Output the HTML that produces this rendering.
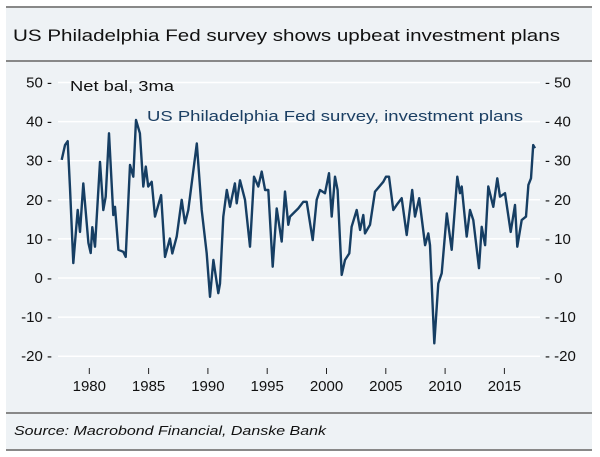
<!DOCTYPE html>
<html><head><meta charset="utf-8"><style>
html,body{margin:0;padding:0;background:#fff;}
svg{display:block;font-family:"Liberation Sans",sans-serif;}
</style></head><body>
<svg id="chart" width="600" height="457" viewBox="0 0 600 457">
  <rect x="6" y="7" width="586" height="444" fill="#eef2f5"/>
  <rect x="6" y="6" width="586" height="2" fill="#888"/>
  <text x="13" y="41" font-size="17" fill="#111" textLength="547" lengthAdjust="spacingAndGlyphs">US Philadelphia Fed survey shows upbeat investment plans</text>
  <rect x="6" y="60" width="586" height="2" fill="#888"/>
  <g id="grid"></g>
  <g id="ylabels"></g>
  <g id="xaxis"></g>
  <text x="70" y="91" font-size="15" fill="#111" textLength="104" lengthAdjust="spacingAndGlyphs">Net bal, 3ma</text>
  <text x="147" y="121" font-size="15" fill="#1b3f63" textLength="376" lengthAdjust="spacingAndGlyphs">US Philadelphia Fed survey, investment plans</text>
  <path id="line" fill="none" stroke="#163e63" stroke-width="2.4" stroke-linejoin="round"/>
  <rect x="6" y="412" width="586" height="2" fill="#888"/>
  <text x="14" y="435" font-size="13" font-style="italic" fill="#111" textLength="312" lengthAdjust="spacingAndGlyphs">Source: Macrobond Financial, Danske Bank</text>
  <rect x="6" y="449" width="586" height="2" fill="#888"/>
</svg>
<script>
const years=[1977.67,1977.95,1978.18,1978.37,1978.65,1979.02,1979.22,1979.49,1979.92,1980.12,1980.25,1980.48,1980.90,1981.18,1981.38,1981.66,1982.02,1982.17,1982.45,1982.87,1983.07,1983.43,1983.71,1983.94,1984.27,1984.55,1984.76,1984.97,1985.26,1985.54,1986.05,1986.38,1986.80,1987.00,1987.37,1987.79,1988.07,1988.35,1988.63,1989.06,1989.48,1989.90,1990.18,1990.46,1990.88,1991.02,1991.30,1991.59,1991.86,1992.28,1992.43,1992.71,1993.13,1993.55,1993.89,1994.25,1994.54,1994.82,1995.09,1995.46,1995.80,1996.22,1996.50,1996.78,1996.92,1997.62,1998.04,1998.33,1998.84,1999.17,1999.45,1999.87,2000.21,2000.44,2000.72,2000.94,2001.28,2001.56,2001.92,2002.12,2002.55,2002.83,2003.10,2003.25,2003.67,2004.09,2004.79,2005.02,2005.27,2005.63,2005.92,2006.34,2006.76,2007.23,2007.46,2007.82,2008.03,2008.31,2008.58,2008.73,2009.09,2009.43,2009.71,2010.14,2010.56,2011.03,2011.26,2011.40,2011.82,2012.10,2012.38,2012.86,2013.09,2013.37,2013.64,2014.06,2014.40,2014.63,2015.05,2015.53,2015.89,2016.09,2016.46,2016.82,2017.02,2017.24,2017.43,2017.58];
const values=[30.2,34,35,23,3.8,17.4,11.8,24.2,9,6.4,13,8,29.7,17.4,20.8,37,16.1,18.2,7.2,6.7,5.4,28.9,25.9,40.4,37,23.4,28.5,23.4,24.6,15.7,21.2,5.4,10.1,6.3,10.6,20,14,17.4,24.2,34.4,17.4,6.3,-4.8,4.6,-3.9,-1.4,15.7,22.5,18.2,24.2,19.1,25,20,8,25.9,23.4,27.2,22.5,22.5,2.9,17.8,9.3,22.1,13.6,15.7,17.8,19.5,19.5,9.7,20,22.5,21.7,26.8,15.7,25.9,22.5,0.8,4.6,6.3,13.1,17.4,12.3,16.1,11.4,13.6,22.1,24.6,25.9,25.9,17.4,18.7,20.4,11,22.5,15.7,20.4,15.3,8.4,11.4,8.4,-16.7,-1.4,1.2,16.5,7.2,25.9,21.7,23.4,10.6,17.4,14.8,2.5,13.1,8.4,23.4,18.2,25.5,20.8,21.7,11.8,18.7,8,14.8,15.7,23.8,25.5,34,33.2];
const yTicks=[50,40,30,20,10,0,-10,-20];
const yTickLabels=["50","40","30","20","10","0","-10","-20"];
const xTicks=[1980,1985,1990,1995,2000,2005,2010,2015];
const xTickLabels=["1980","1985","1990","1995","2000","2005","2010","2015"];

const NS="http://www.w3.org/2000/svg";
function xs(yr){return 89.3+(yr-1980)*11.86;}
function ys(v){return 278-v*3.91;}
function mk(tag,attrs,parent,txt){const e=document.createElementNS(NS,tag);for(const k in attrs)e.setAttribute(k,attrs[k]);if(txt!==undefined)e.textContent=txt;parent.appendChild(e);return e;}
const grid=document.getElementById('grid'),yl=document.getElementById('ylabels'),xa=document.getElementById('xaxis');
yTicks.forEach((t,i)=>{
  const g=mk('line',{x1:58,x2:540,y1:ys(t),y2:ys(t),stroke:'#ffffff','stroke-width':1.5},grid);
  
  
  const l=mk('text',{x:52,y:ys(t)+5,'font-size':15,'text-anchor':'end',fill:'#111'},yl,yTickLabels[i]+" -");
  
  
  const r=mk('text',{x:545,y:ys(t)+5,'font-size':15,fill:'#111'},yl,"- "+yTickLabels[i]);
  
  
});
xTicks.forEach((t,i)=>{
  const tk=mk('line',{x1:xs(t),x2:xs(t),y1:368,y2:374,stroke:'#222','stroke-width':1},xa);
  
  
  const l=mk('text',{x:xs(t),y:391,'font-size':15,'text-anchor':'middle',fill:'#111'},xa,xTickLabels[i]);
  
  
});
let d="";
years.forEach((yr,i)=>{d+=(i?"L":"M")+xs(yr).toFixed(1)+","+ys(values[i]).toFixed(1);});
document.getElementById('line').setAttribute('d',d);
</script>
</body></html>
